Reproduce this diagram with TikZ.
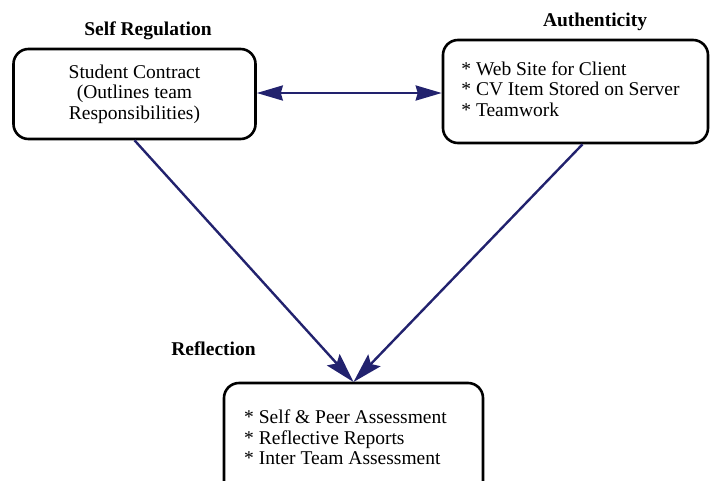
\documentclass[tikz,border=0pt]{standalone}
\usepackage{fontspec}
\setmainfont{Liberation Serif}
\usetikzlibrary{arrows.meta}
\definecolor{navy}{RGB}{34,34,110}
\begin{document}
\begin{tikzpicture}[x=1pt,y=-1pt,
  box/.style={draw=black,line width=2.6pt,rounded corners=15pt,inner sep=0pt,
    font=\fontsize{19.5}{20.5}\selectfont},
  title/.style={font=\fontsize{19.5}{20.5}\selectfont\bfseries,anchor=base,inner sep=0pt},
  link/.style={draw=navy,line width=2.4pt},
  tipH/.style={{Stealth[length=26pt,width=15pt,inset=2pt]}-{Stealth[length=26pt,width=15pt,inset=2pt]}},
  tipD/.style={-{Stealth[length=30pt,width=17pt,inset=5pt]}}]
\useasboundingbox (0,0) rectangle (710,480);
\clip (0,0) rectangle (710,480);
\node[box,minimum width=242pt,minimum height=90pt,align=center] (sr) at (134.5,94)
  {Student Contract\\(Outlines team\\Responsibilities)};
\node[box,minimum width=265pt,minimum height=103pt] (au) at (575.5,91.5)
  {\begin{tabular}{@{}l@{}}* Web Site for Client\\{}* CV Item Stored on Server\\{}* Teamwork\end{tabular}\hspace*{10pt}};
\node[box,minimum width=259pt,minimum height=114pt] (re) at (353.5,440)
  {\begin{tabular}{@{}l@{}}* Self \& Peer Assessment\\{}* Reflective Reports\\{}* Inter Team Assessment\end{tabular}\hspace*{16pt}};
\node[title] (tsr) at (148,35) {Self Regulation};
\node[title] (tau) at (595,26) {Authenticity};
\node[title] (tre) at (213.5,355) {Reflection};
\coordinate (auS) at ([xshift=7pt]au.south);
\coordinate (reN) at (353.5,382);
\draw[link,tipH] ([yshift=1pt]sr.east) -- ([yshift=1pt]sr.east -| au.west);
\draw[link,tipD] (sr.south) -- (reN);
\draw[link,tipD] (auS) -- (reN);
\end{tikzpicture}
\end{document}
